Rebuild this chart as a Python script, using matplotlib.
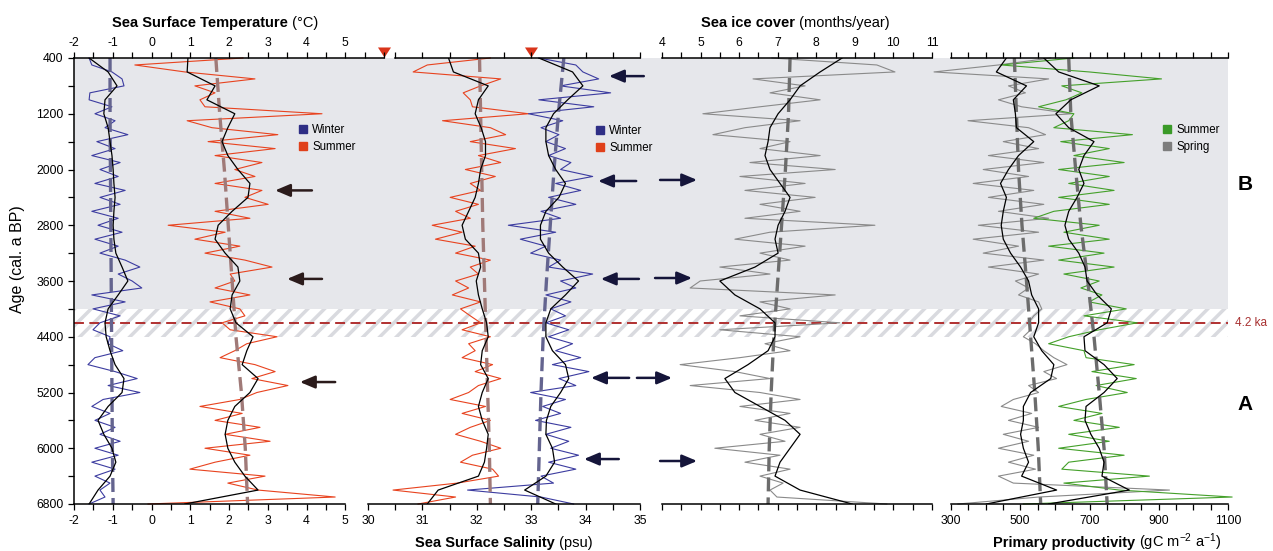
import numpy as np
import matplotlib
matplotlib.use('Agg')
import matplotlib.pyplot as plt
from matplotlib.lines import Line2D

plt.rcParams['font.family'] = ['Liberation Sans', 'DejaVu Sans']
plt.rcParams['mathtext.fontset'] = 'custom'
plt.rcParams['mathtext.rm'] = 'Liberation Sans'
plt.rcParams['mathtext.it'] = 'Liberation Sans:italic'
plt.rcParams['mathtext.bf'] = 'Liberation Sans:bold'
plt.rcParams['hatch.linewidth'] = 2.5

# sample ages (cal. a BP): raw records, smoothed curves, long-term trends
age = np.arange(400, 6801, 100)
age_s = np.arange(400, 6801, 200)
age_t = np.arange(400, 6801, 800)

# sea surface temperature (degC)
sst_winter = [-1.61, -1.54, -1.02, -0.76, -0.71, -1.59, -1.61, -1.02, -1.46, -0.94,
              -1.20, -0.61, -1.41, -0.94, -1.54, -0.81, -1.33, -0.86, -1.46, -0.68,
              -1.33, -0.81, -1.54, -0.86, -1.38, -0.76, -1.46, -0.86, -1.33, -0.68,
              -0.30, -0.86, -0.50, -0.25, -1.54, -0.68, -1.51, -0.81, -1.33, -1.51,
              -1.07, -1.12, -0.74, -1.46, -1.64, -0.94, -0.37, -1.12, -0.30, -1.25,
              -1.54, -1.07, -1.46, -0.94, -1.33, -0.81, -1.46, -0.86, -1.54, -0.94,
              -1.46, -1.07, -1.33, -1.20, -1.61]
sst_summer = [2.36, -0.43, 0.86, 2.67, 1.12, 1.64, 1.25, 1.38, 4.40, 0.92,
              1.56, 3.26, 1.46, 3.19, 1.64, 2.85, 2.15, 2.67, 1.64, 2.85,
              2.41, 3.01, 1.64, 2.54, 0.43, 1.90, 1.12, 2.28, 1.38, 2.41,
              3.11, 2.03, 2.15, 1.64, 2.54, 1.51, 2.28, 2.41, 1.82, 2.03,
              3.24, 2.46, 2.15, 1.77, 2.67, 3.19, 2.59, 3.52, 2.72, 2.28,
              1.25, 2.34, 1.64, 2.80, 1.90, 3.06, 1.38, 2.54, 1.64, 0.99,
              2.93, 1.97, 2.75, 4.74, -0.09]
sst_winter_s = [-1.61, -1.12, -0.89, -1.20, -1.23, -1.12, -1.07, -1.02, -0.99, -0.97,
                -0.94, -0.97, -0.99, -0.97, -0.92, -0.76, -0.61, -0.86, -1.12, -1.20,
                -1.17, -1.07, -0.94, -0.71, -0.76, -1.12, -1.38, -1.23, -1.02, -0.92,
                -1.07, -1.38, -1.61]
sst_summer_s = [0.94, 0.92, 1.64, 1.43, 2.15, 1.97, 1.82, 1.97, 2.23, 2.54,
                2.49, 2.08, 1.72, 1.64, 1.90, 2.23, 2.28, 2.08, 2.03, 2.18,
                2.62, 2.46, 2.34, 2.75, 2.54, 2.15, 1.97, 1.90, 1.97, 2.15,
                2.41, 2.75, 0.86]
sst_winter_t = [-1.07, -1.07, -1.06, -1.05, -1.04, -1.03, -1.02, -1.01, -0.99]
sst_summer_t = [1.66, 1.76, 1.88, 1.98, 2.08, 2.18, 2.32, 2.42, 2.48]

# sea surface salinity (psu)
sss_summer = [32.25, 31.09, 30.83, 32.44, 32.07, 31.75, 31.88, 31.92, 32.95, 31.37,
              32.25, 32.53, 31.88, 32.71, 32.03, 32.44, 31.79, 32.34, 31.88, 32.07,
              31.51, 32.03, 31.61, 31.88, 31.18, 31.73, 31.24, 31.97, 31.61, 32.25,
              31.88, 32.03, 31.61, 31.85, 31.55, 32.07, 31.70, 31.88, 32.07, 31.73,
              32.25, 31.85, 31.97, 31.73, 32.29, 31.97, 32.44, 32.03, 31.85, 31.51,
              32.16, 31.73, 32.25, 31.88, 31.61, 32.07, 32.44, 31.92, 31.70, 32.29,
              32.40, 31.64, 30.46, 31.61, 30.92]
sss_winter = [33.14, 33.82, 33.95, 34.24, 33.54, 34.46, 33.14, 34.15, 32.95, 33.58,
              33.18, 33.51, 33.27, 33.63, 33.32, 33.73, 33.54, 34.13, 33.45, 33.91,
              33.32, 33.82, 33.18, 33.54, 32.58, 33.45, 32.80, 33.27, 32.99, 33.54,
              33.32, 34.13, 33.54, 33.82, 33.27, 33.73, 33.36, 33.63, 33.27, 33.69,
              33.32, 33.76, 33.45, 33.91, 33.39, 34.06, 33.51, 33.82, 32.99, 33.63,
              33.21, 33.54, 33.08, 33.73, 33.27, 33.69, 33.36, 33.87, 33.32, 33.82,
              33.18, 33.41, 31.83, 33.18, 33.78]
sss_summer_s = [31.48, 31.57, 32.21, 32.03, 31.97, 32.08, 32.16, 32.16, 32.07, 32.03,
                31.97, 31.85, 31.73, 31.79, 32.03, 32.07, 31.99, 32.03, 32.10, 32.18,
                32.21, 32.10, 32.07, 32.21, 32.10, 32.03, 32.10, 32.21, 32.18, 32.14,
                32.03, 31.29, 31.09]
sss_winter_s = [33.14, 33.76, 33.95, 33.67, 33.41, 33.27, 33.27, 33.32, 33.45, 33.63,
                33.51, 33.27, 33.17, 33.17, 33.32, 33.58, 33.87, 33.63, 33.36, 33.27,
                33.27, 33.39, 33.63, 33.69, 33.54, 33.36, 33.28, 33.27, 33.39, 33.43,
                33.27, 32.88, 33.45]
sss_summer_t = [32.05, 32.07, 32.09, 32.11, 32.14, 32.17, 32.20, 32.23, 32.25]
sss_winter_t = [33.60, 33.50, 33.42, 33.35, 33.28, 33.22, 33.18, 33.15, 33.12]

# sea ice cover (months/year)
ice = [6.85, 9.57, 10.04, 6.36, 7.71, 6.80, 8.10, 6.54, 5.06, 7.58,
       6.15, 5.32, 7.32, 6.54, 8.10, 6.28, 8.49, 6.02, 7.71, 6.15,
       7.97, 6.54, 7.58, 6.15, 9.52, 6.80, 5.89, 7.71, 6.54, 7.32,
       5.50, 6.80, 4.99, 4.73, 8.49, 6.54, 7.32, 6.02, 8.61, 5.50,
       7.58, 6.67, 7.32, 6.02, 4.47, 5.89, 6.80, 4.73, 6.54, 7.58,
       6.02, 7.32, 6.41, 7.58, 6.54, 7.19, 5.37, 7.06, 6.15, 7.32,
       6.54, 7.14, 6.80, 6.98, 9.83]
ice_s = [8.67, 8.10, 7.58, 7.32, 7.01, 6.80, 6.75, 6.67, 6.80, 7.06,
         7.32, 7.19, 7.01, 6.93, 7.01, 6.41, 5.50, 5.89, 6.54, 6.93,
         6.93, 6.75, 6.23, 5.63, 5.89, 6.54, 7.19, 7.58, 7.32, 7.06,
         6.93, 7.58, 8.93]
ice_t = [7.32, 7.28, 7.20, 7.10, 7.00, 6.90, 6.83, 6.78, 6.75]

# primary productivity (gC m-2 a-1)
pp_spring = [588, 437, 251, 582, 466, 515, 437, 504, 649, 349,
             524, 573, 451, 553, 408, 568, 393, 524, 364, 539,
             408, 568, 437, 582, 379, 553, 364, 495, 393, 568,
             408, 553, 486, 524, 495, 553, 562, 539, 524, 530,
             509, 544, 568, 597, 635, 568, 605, 524, 553, 480,
             445, 533, 466, 553, 451, 524, 437, 539, 466, 544,
             437, 480, 931, 553, 320]
pp_summer = [655, 445, 699, 908, 620, 678, 632, 553, 655, 640,
             597, 824, 617, 757, 655, 800, 611, 757, 640, 771,
             611, 757, 597, 539, 728, 626, 757, 582, 742, 611,
             771, 626, 728, 675, 736, 699, 806, 684, 838, 728,
             640, 582, 684, 690, 829, 707, 835, 719, 809, 690,
             611, 736, 655, 786, 640, 757, 611, 800, 640, 620,
             873, 626, 786, 1112, 509]
pp_spring_s = [460, 431, 518, 480, 486, 489, 539, 495, 466, 443,
               460, 451, 445, 451, 472, 501, 524, 533, 553, 553,
               539, 562, 597, 588, 530, 509, 509, 501, 509, 524,
               504, 605, 402]
pp_summer_s = [568, 611, 728, 646, 603, 640, 713, 684, 669, 684,
               664, 640, 629, 640, 669, 687, 693, 722, 763, 751,
               684, 687, 742, 780, 742, 690, 687, 704, 728, 742,
               736, 815, 582]
pp_spring_t = [483, 489, 495, 505, 518, 530, 542, 552, 559]
pp_summer_t = [640, 646, 660, 675, 695, 713, 728, 742, 751]

# highlighted events: (tail, head, age)
sst_arrows = [(4.14, 3.19, 2300), (4.40, 3.50, 3570), (4.74, 3.83, 5050)]
sss_arrows = [(35.07, 34.43, 660), (34.93, 34.23, 2165), (34.98, 34.28, 3570),
              (34.80, 34.10, 4990), (34.61, 33.97, 6155)]
ice_arrows = [(3.95, 4.91, 2150), (3.82, 4.78, 3557), (3.35, 4.26, 4990),
              (3.95, 4.91, 6183)]

BLUE = '#3c3ca0'
RED = '#e8431f'
GREEN = '#44a02a'
GREY = '#8a8a8a'
DASH_BLUE = '#64648f'
DASH_RED = '#a07a78'
DASH_GREY = '#6c6c6c'

W, H = 1273, 551
TOP, BOT = 58, 504
TICK_FS = 8.8

fig = plt.figure(figsize=(W / 100, H / 100), dpi=100)
renderer = fig.canvas.get_renderer()


def add_panel(x0, x1, z=2):
    ax = fig.add_axes([x0 / W, 1 - BOT / H, (x1 - x0) / W, (BOT - TOP) / H], zorder=z)
    ax.set_ylim(6800, 400)
    ax.patch.set_visible(False)
    return ax


def tick_labels(ticks, show):
    return [('%g' % t if t in show else '') for t in ticks]


def style_panel(ax, bot_ticks, bot_show, top_ticks, top_show):
    for s in ('left', 'right', 'top'):
        ax.spines[s].set_visible(False)
    ax.set_yticks([])
    ax.spines['bottom'].set_bounds(bot_ticks[0], bot_ticks[-1])
    ax.spines['bottom'].set_linewidth(1.1)
    ax.set_xticks(bot_ticks)
    ax.set_xticklabels(tick_labels(bot_ticks, bot_show))
    ax.tick_params(axis='x', direction='out', length=4, width=0.9, pad=4, labelsize=TICK_FS)
    top = ax.twiny()
    top.set_xlim(ax.get_xlim())
    top.patch.set_visible(False)
    for s in ('left', 'right', 'bottom'):
        top.spines[s].set_visible(False)
    top.spines['top'].set_bounds(top_ticks[0], top_ticks[-1])
    top.spines['top'].set_linewidth(1.1)
    top.set_xticks(top_ticks)
    top.set_xticklabels(tick_labels(top_ticks, top_show))
    top.tick_params(axis='x', direction='out', length=4, width=0.9, pad=2.5, labelsize=TICK_FS)
    return top


def triangle(ax, x):
    ax.plot([x], [1.013], marker=[(-0.65, 0.5), (0.65, 0.5), (0, -0.5)], ms=9.4,
            color='#d9341a', mec='none', transform=ax.get_xaxis_transform(),
            clip_on=False, zorder=6)


def arrows(ax, items, color):
    for tail, head, a in items:
        ax.annotate('', xy=(head, a), xytext=(tail, a), annotation_clip=False,
                    arrowprops=dict(arrowstyle='-|>,head_length=0.9,head_width=0.38',
                                    lw=1.8, color=color, shrinkA=0, shrinkB=0))


# background: period shading, 4.2 ka event band and age axis
ax0 = add_panel(74, 1228, z=1)
ax0.patch.set_visible(True)
ax0.set_xlim(0, 1)
ax0.axhspan(400, 4000, color='#e6e7eb', lw=0)
ax0.axhspan(4000, 4400, facecolor='white', edgecolor='#d9dadf', hatch='//', lw=0)
ax0.axhline(4200, color='#b03030', lw=1.4, dashes=(5.1, 2.8))
for s in ('top', 'right', 'bottom'):
    ax0.spines[s].set_visible(False)
ax0.spines['left'].set_linewidth(1.1)
ax0.set_xticks([])
ax0.set_yticks(np.arange(400, 6801, 800))
ax0.set_yticks(np.arange(400, 6801, 400), minor=True)
ax0.tick_params(axis='y', which='both', direction='out', length=4, width=0.9,
                pad=3.5, labelsize=TICK_FS)
fig.text(18 / W, 1 - 259 / H, 'Age (cal. a BP)', fontsize=11.5, rotation=90,
         ha='center', va='center')

# sea surface temperature
ax1 = add_panel(74, 384)
ax1.set_xlim(-2, 6)
style_panel(ax1, np.arange(-2, 5.01, 0.5), range(-2, 6),
            np.arange(-2, 6.01, 0.5), range(-2, 6))
ax1.plot(sst_winter, age, color=BLUE, lw=0.8, clip_on=False)
ax1.plot(sst_summer, age, color=RED, lw=0.8, clip_on=False)
ax1.plot(sst_winter_t, age_t, color=DASH_BLUE, lw=2.4, dashes=(4.2, 1.8))
ax1.plot(sst_summer_t, age_t, color=DASH_RED, lw=2.4, dashes=(4.2, 1.8))
ax1.plot(sst_winter_s, age_s, color='black', lw=0.9)
ax1.plot(sst_summer_s, age_s, color='black', lw=0.9)
triangle(ax1, 6)
arrows(ax1, sst_arrows, '#2b1b1b')

# sea surface salinity
ax2 = add_panel(368, 640)
ax2.set_xlim(30, 35)
style_panel(ax2, np.arange(30, 35.01, 0.5), range(30, 36),
            np.arange(30.5, 35.01, 0.5), [])
ax2.plot(sss_summer, age, color=RED, lw=0.8, clip_on=False)
ax2.plot(sss_winter, age, color=BLUE, lw=0.8, clip_on=False)
ax2.plot(sss_summer_t, age_t, color=DASH_RED, lw=2.4, dashes=(4.2, 1.8))
ax2.plot(sss_winter_t, age_t, color=DASH_BLUE, lw=2.4, dashes=(4.2, 1.8))
ax2.plot(sss_summer_s, age_s, color='black', lw=0.9)
ax2.plot(sss_winter_s, age_s, color='black', lw=0.9)
triangle(ax2, 33)
arrows(ax2, sss_arrows, '#15153a')

# sea ice cover
ax3 = add_panel(662, 932)
ax3.set_xlim(4, 11)
style_panel(ax3, np.arange(4, 11.01, 0.5), [],
            np.arange(4, 11.01, 0.5), range(4, 12))
ax3.plot(ice, age, color=GREY, lw=0.8, clip_on=False)
ax3.plot(ice_t, age_t, color=DASH_GREY, lw=2.4, dashes=(4.2, 1.8))
ax3.plot(ice_s, age_s, color='black', lw=0.9)
arrows(ax3, ice_arrows, '#15153a')

# primary productivity
ax4 = add_panel(951, 1228)
ax4.set_xlim(300, 1100)
style_panel(ax4, np.arange(300, 1101, 50), [300, 500, 700, 900, 1100],
            np.arange(300, 1101, 50), [])
ax4.plot(pp_spring, age, color=GREY, lw=0.8, clip_on=False)
ax4.plot(pp_summer, age, color=GREEN, lw=0.8, clip_on=False)
ax4.plot(pp_spring_t, age_t, color=DASH_GREY, lw=2.4, dashes=(4.2, 1.8))
ax4.plot(pp_summer_t, age_t, color=DASH_GREY, lw=2.4, dashes=(4.2, 1.8))
ax4.plot(pp_spring_s, age_s, color='black', lw=0.9)
ax4.plot(pp_summer_s, age_s, color='black', lw=0.9)


# legends
def square(c):
    return Line2D([], [], ls='none', marker='s', ms=5.5, color=c)


for (x, y), items in [((298, 124), [('#2e2e85', 'Winter'), ('#e0401a', 'Summer')]),
                      ((595, 125), [('#2e2e85', 'Winter'), ('#e0401a', 'Summer')]),
                      ((1162, 124), [('#3a9a28', 'Summer'), ('#7d7d7d', 'Spring')])]:
    fig.legend([square(c) for c, _ in items], [t for _, t in items],
               loc='upper left', bbox_to_anchor=(x / W, 1 - y / H), frameon=False,
               fontsize=8.3, handlelength=0.8, handletextpad=0.45,
               labelspacing=0.45, borderpad=0, borderaxespad=0)


# axis titles: bold name followed by the unit in regular weight, on one baseline
def title(x, y, name, unit):
    t = fig.text(x / W, 1 - y / H, name, fontsize=10.5, fontweight='bold',
                 ha='left', va='baseline')
    x1 = t.get_window_extent(renderer=renderer).x1
    fig.text(x1 / W, 1 - y / H, ' ' + unit, fontsize=10.5, ha='left', va='baseline')


title(112, 27, 'Sea Surface Temperature', '(°C)')
title(701, 27, 'Sea ice cover', '(months/year)')
title(415, 547, 'Sea Surface Salinity', '(psu)')
title(993, 547, 'Primary productivity', '(gC m$^{-2}$ a$^{-1}$)')

fig.text(1235 / W, 1 - 323 / H, '4.2 ka', color='#a83232', fontsize=8.5, va='center')
fig.text(1245 / W, 1 - 185 / H, 'B', fontsize=15, fontweight='bold', ha='center', va='center')
fig.text(1245 / W, 1 - 405 / H, 'A', fontsize=15, fontweight='bold', ha='center', va='center')

fig.savefig('out.png', dpi=100)
